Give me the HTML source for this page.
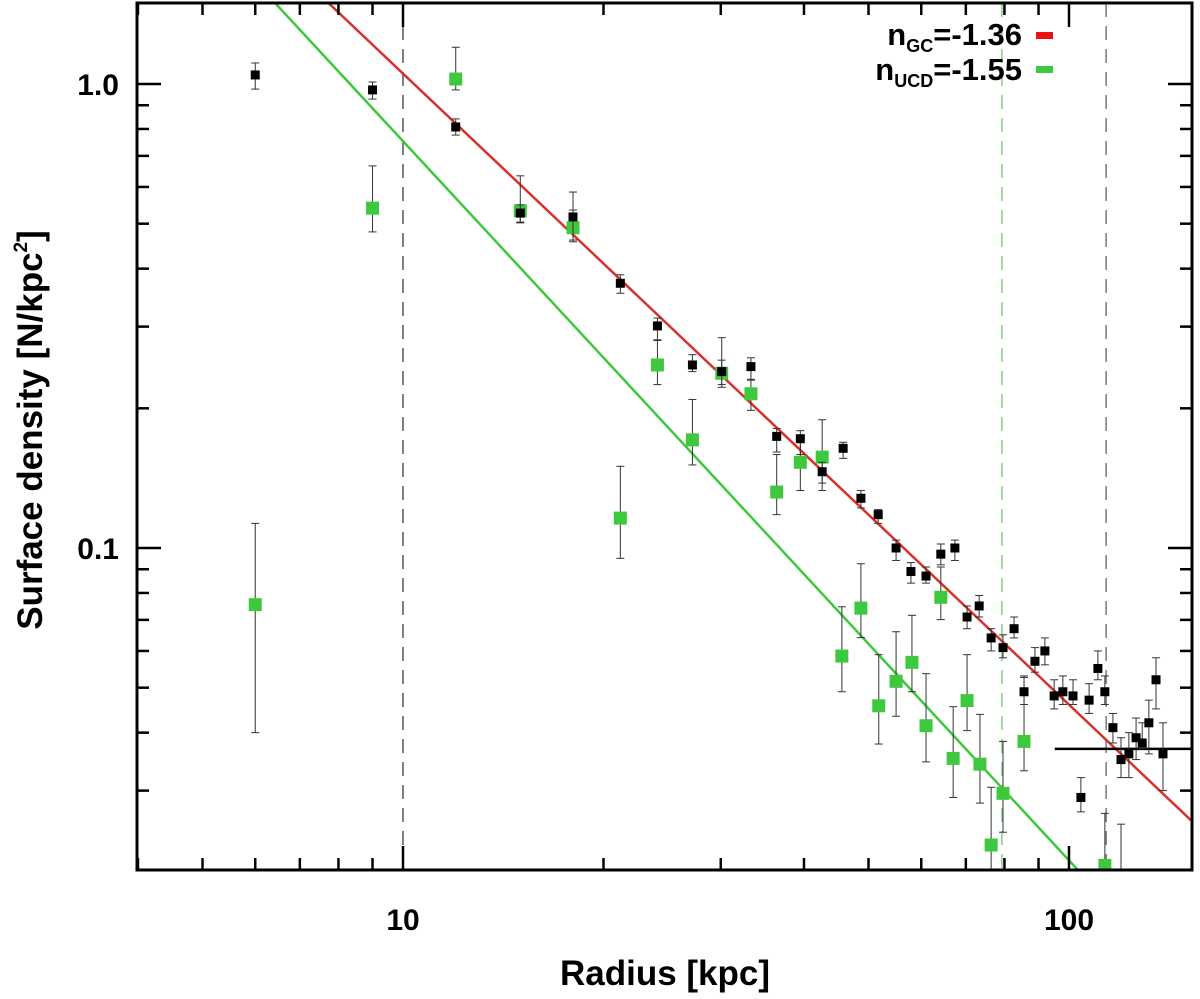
<!DOCTYPE html>
<html><head><meta charset="utf-8"><style>
html,body{margin:0;padding:0;background:#fff;}
svg{display:block;font-family:"Liberation Sans",Arial,sans-serif;font-weight:bold;}
</style></head><body>
<svg id="chart" width="1200" height="999" viewBox="0 0 1200 999"></svg>
<script>
// ---- data ----
const gcRadius=[6,9,12,15,18,21.2,24.1,27.2,30.1,33.3,36.4,39.5,42.6,45.8,48.7,51.7,55,57.9,61,64.2,67.4,70.3,73.3,76.4,79.6,82.7,85.6,88.9,92,95,97.9,101.4,104.2,107.2,110.5,113.2,116.4,119.7,123,126.1,128.8,131.8,135.1,138.4];
const gcDensity=[1.046,0.971,0.808,0.527,0.517,0.372,0.301,0.248,0.240,0.246,0.174,0.172,0.146,0.164,0.128,0.118,0.100,0.089,0.087,0.097,0.100,0.071,0.075,0.064,0.061,0.067,0.049,0.057,0.060,0.048,0.049,0.048,0.029,0.047,0.055,0.049,0.041,0.035,0.036,0.039,0.038,0.042,0.052,0.036];
const gcErrHi=[1.110,1.01,0.841,0.549,0.535,0.388,0.313,0.261,0.284,0.257,0.181,0.179,0.153,0.169,0.133,0.121,0.104,0.093,0.091,0.102,0.104,0.075,0.079,0.067,0.065,0.071,0.053,0.061,0.064,0.052,0.053,0.052,0.032,0.051,0.060,0.053,0.044,0.039,0.040,0.043,0.042,0.047,0.058,0.042];
const gcErrLo=[0.975,0.928,0.776,0.502,0.461,0.354,0.280,0.240,0.222,0.231,0.161,0.159,0.138,0.156,0.122,0.113,0.094,0.084,0.084,0.092,0.094,0.067,0.071,0.060,0.058,0.064,0.046,0.054,0.056,0.045,0.046,0.046,0.027,0.044,0.052,0.046,0.038,0.032,0.032,0.035,0.037,0.036,0.045,0.030];
const ucdRadius=[6,9,12,15,18,21.2,24.1,27.2,30.1,33.3,36.4,39.5,42.6,45.6,48.7,51.8,55,58.1,61,64.2,67,70.3,73.5,76.4,79.6,85.6,113.2,119.7];
const ucdDensity=[0.0755,0.540,1.025,0.533,0.490,0.116,0.248,0.171,0.238,0.215,0.132,0.153,0.157,0.0585,0.0742,0.0457,0.0516,0.0567,0.0414,0.0783,0.0352,0.0469,0.0342,0.0229,0.0296,0.0383,0.0207,0.0196];
const ucdErrHi=[0.113,0.666,1.20,0.634,0.585,0.150,0.281,0.209,0.254,0.230,0.159,0.171,0.189,0.0747,0.0925,0.0589,0.0660,0.0716,0.0536,0.0910,0.0455,0.0589,0.0438,0.0305,0.0383,0.0526,0.0268,0.0254];
const ucdErrLo=[0.040,0.480,0.971,0.504,0.457,0.095,0.225,0.151,0.225,0.198,0.118,0.133,0.133,0.0490,0.0641,0.0378,0.0434,0.0490,0.0346,0.0701,0.0290,0.0404,0.0282,0.015,0.0244,0.0331,0.015,0.015];
const gcFit={amp:1.053,slope:-1.36};
const ucdFit={amp:0.753,slope:-1.55};
const xTickLabels=[10,100];
const yTickLabels=["0.1","1.0"];
const yTickValues=[0.1,1.0];
const dashedLines=[{x:10,color:"#555"},{x:79.3,color:"#7fd07f"},{x:113.7,color:"#777"}];
const bgLevel={x0:95.2,y:0.0369};

// ---- axes ----
const L=137,R=1192,T=3,B=870;
const X=v=>403+666*(Math.log10(v)-1);
const Y=v=>84-464*Math.log10(v);
const xMin=10**(1+(L-403)/666), xMax=10**(1+(R-403)/666);
const NS="http://www.w3.org/2000/svg";
const svg=document.getElementById('chart');
function mk(tag,attrs,parent){const e=document.createElementNS(NS,tag);for(const k in attrs)e.setAttribute(k,attrs[k]);(parent||svg).appendChild(e);return e;}
const defs=mk('defs',{});
const cp=mk('clipPath',{id:'clip'},defs);
mk('rect',{x:L,y:T,width:R-L,height:B-T},cp);
const plot=mk('g',{'clip-path':'url(#clip)'});



dashedLines.forEach(d=>{
  const l=mk('line',{x1:X(d.x),x2:X(d.x),y1:T,y2:B,stroke:d.color,'stroke-width':1.5,'stroke-dasharray':'14,9'},plot);
  
  
});
[[gcFit,'#d8302a','gc-fit-line'],[ucdFit,'#3ec83e','ucd-fit-line']].forEach(([f,c,n])=>{
  const ya=f.amp*(xMin/10)**f.slope, yb=f.amp*(xMax/10)**f.slope;
  const l=mk('line',{x1:L,y1:Y(ya),x2:R,y2:Y(yb),stroke:c,'stroke-width':2.5},plot);
  
  
});
const bl=mk('line',{x1:X(bgLevel.x0),x2:R,y1:Y(bgLevel.y),y2:Y(bgLevel.y),stroke:'#000','stroke-width':2.5},plot);



function series(xs,ys,hi,lo,color,size,name){
  const g=mk('g',{},plot);
  
  
  xs.forEach((x,i)=>{
    const cx=X(x);
    mk('line',{x1:cx,x2:cx,y1:Y(hi[i]),y2:Y(lo[i]),stroke:'#333','stroke-width':1},g);
    mk('line',{x1:cx-4,x2:cx+4,y1:Y(hi[i]),y2:Y(hi[i]),stroke:'#333','stroke-width':1},g);
    mk('line',{x1:cx-4,x2:cx+4,y1:Y(lo[i]),y2:Y(lo[i]),stroke:'#333','stroke-width':1},g);
    const r=mk('rect',{x:cx-size/2,y:Y(ys[i])-size/2,width:size,height:size,fill:color},g);
    
    
  });
}
series(ucdRadius,ucdDensity,ucdErrHi,ucdErrLo,'#3ec83e',13,'ucd-series');
series(gcRadius,gcDensity,gcErrHi,gcErrLo,'#000',9,'gc-series');

const fr=mk('rect',{x:L,y:T,width:R-L,height:B-T,fill:'none',stroke:'#000','stroke-width':3});


const tg=mk('g',{stroke:'#000','stroke-width':2.5});


for(let d=1;d<=100;d*=10){for(let m=1;m<10;m++){const v=m*d;if(v<xMin||v>xMax)continue;const x=X(v);const len=m===1?24:12;
  mk('line',{x1:x,x2:x,y1:B,y2:B-len},tg);mk('line',{x1:x,x2:x,y1:T,y2:T+len},tg);}}
for(let d=0.01;d<=1.001;d*=10){for(let m=1;m<10;m++){const v=m*d;const y=Y(v);if(y<T||y>B)continue;const len=m===1?24:12;
  mk('line',{x1:L,x2:L+len,y1:y,y2:y},tg);mk('line',{x1:R,x2:R-len,y1:y,y2:y},tg);}}
xTickLabels.forEach(v=>{const t=mk('text',{x:X(v),y:930,'text-anchor':'middle','font-size':30});t.textContent=v;
  });
yTickLabels.forEach((s,i)=>{const t=mk('text',{x:119,y:Y(yTickValues[i])+11,'text-anchor':'end','font-size':30});t.textContent=s;
  });
</script>
<svg style="position:absolute;left:0;top:0" width="1200" height="999">
<text x="665" y="985" text-anchor="middle" font-size="35" font-family="Liberation Sans" font-weight="bold">Radius [kpc]</text>
<text transform="translate(42,430) rotate(-90)" text-anchor="middle" font-size="35" font-family="Liberation Sans" font-weight="bold">Surface density [N/kpc<tspan font-size="19" dy="-15">2</tspan><tspan dy="15">]</tspan></text>
<g font-family="Liberation Sans" font-weight="bold">
<text x="1022" y="45" text-anchor="end" font-size="31">n<tspan font-size="18" dy="7">GC</tspan><tspan dy="-7">=-1.36</tspan></text>
<rect x="1036" y="32" width="17" height="7" fill="#ee1111"/>
<text x="1022" y="80" text-anchor="end" font-size="31">n<tspan font-size="18" dy="7">UCD</tspan><tspan dy="-7">=-1.55</tspan></text>
<rect x="1036" y="66" width="17" height="7" fill="#3ec83e"/>
</g>
</svg>
</body></html>
